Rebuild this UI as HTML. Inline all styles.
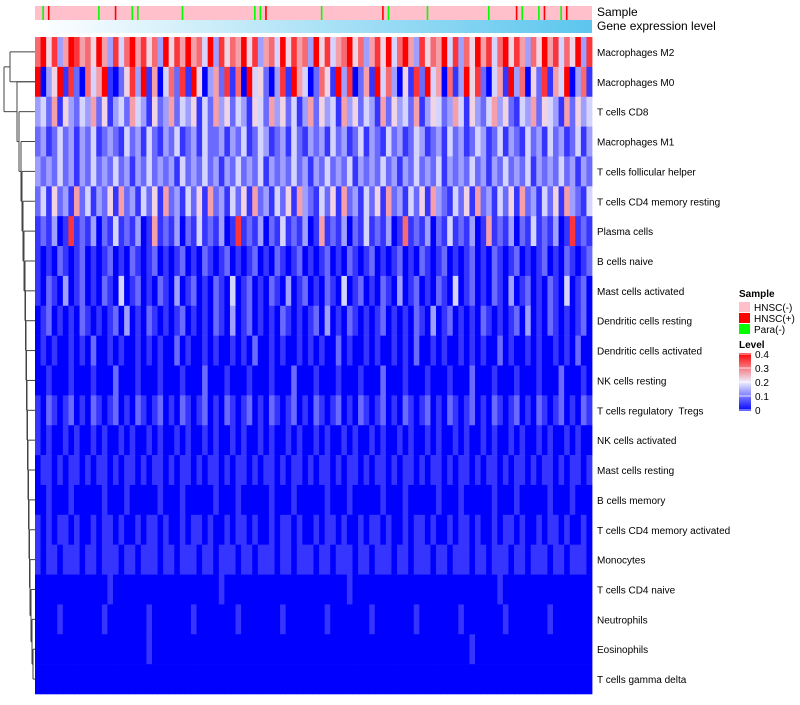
<!DOCTYPE html>
<html><head><meta charset="utf-8"><style>
body{margin:0;background:#fff;width:800px;height:700px;overflow:hidden;font-family:"Liberation Sans",sans-serif}
#labels text{white-space:pre}
</style></head><body>
<svg id="chart" width="800" height="700" xmlns="http://www.w3.org/2000/svg" font-family="Liberation Sans, sans-serif">
<defs>
<linearGradient id="gexp" x1="0" x2="1" y1="0" y2="0"><stop offset="0" stop-color="#ffffff"/><stop offset="1" stop-color="#5cc6ee"/></linearGradient>
<linearGradient id="lvl" x1="0" x2="0" y1="1" y2="0"><stop offset="0" stop-color="#0000ff"/><stop offset="0.5" stop-color="#eeeeff"/><stop offset="1" stop-color="#ff0000"/></linearGradient>
</defs>
<g id="dendro"></g>
<g id="sampleBar"></g>
<rect x="35" y="20" width="557" height="13" fill="url(#gexp)"/>
<text x="597" y="16" font-size="12">Sample</text>
<text x="597" y="30" font-size="12">Gene expression level</text>
<g id="cells"></g>
<g id="labels"></g>
<g>
<text x="739" y="297" font-size="10" font-weight="bold">Sample</text>
<rect x="739" y="302" width="11" height="10" fill="#ffc0cb"/>
<text x="754" y="311" font-size="10">HNSC(-)</text>
<rect x="739" y="313" width="11" height="10" fill="#ff0000"/>
<text x="754" y="322" font-size="10">HNSC(+)</text>
<rect x="739" y="324" width="11" height="10" fill="#00ff00"/>
<text x="754" y="333" font-size="10">Para(-)</text>
<text x="739" y="348" font-size="10" font-weight="bold">Level</text>
<rect x="739" y="353" width="12" height="58" fill="url(#lvl)"/>
<g id="lvlTicks"></g>
</g>
</svg>
<script>
const rowNames=["Macrophages M2","Macrophages M0","T cells CD8","Macrophages M1","T cells follicular helper","T cells CD4 memory resting","Plasma cells","B cells naive","Mast cells activated","Dendritic cells resting","Dendritic cells activated","NK cells resting","T cells regulatory  Tregs","NK cells activated","Mast cells resting","B cells memory","T cells CD4 memory activated","Monocytes","T cells CD4 naive","Neutrophils","Eosinophils","T cells gamma delta"];
const rowValues=[
"7958369867596384796857395869674938576958367495867395846795736859479638576948375968479586375968475938",
"9035918207469102583916047281950362817094520381964027519380261947305182946071395820461937052816490371",
"3426153243625134264315236243514263524315426352413625341635243162534261354236415324635214362543162534",
"2312423132412321423142132412314223132412431231421323142312413214231243123142312431241321423142312413",
"3232423132423242313242323142324231324232413232423132423241323242313242324132324231324232413232423132",
"2415231624132516231425162314251623142516231425163214251623142516231425163214251623142516231425163214",
"1213018121302141213016121302141213018121302141213016121302141213017121302141213016121302141213018121",
"1010210120101201021012010120102101201012010210120101201021012010120102101201012010210120101201021012",
"1021030120102104012010210301201021040120102103012010210401201021030120102104012010210301201021040120",
"0120101021010120301021010120101021030120101021010120301021010120101021030120101021010120301021010120",
"0101001010200101001010100201001010010102001010010101002010010100101020010100101010020100101001010200",
"0010001000100020001000100010002000100010001000200010001000100020001000100010002000100010001000200010",
"1021012010210120102101201021012010210120102101201021012010210120102101201021012010210120102101201021",
"1010010100101001010010100101001010010100101001010010100101001010010100101001010010100101001010010100",
"0110101101011010110101101011010110101101011010110101101011010110101101011010110101101011010110101101",
"0010001000001000100000100010000010001000001000100000100010000010001000001000100000100010000010001000",
"1010110100101101001011010010110100101101001011010010110100101101001011010010110100101101001011010010",
"1011011101101110110111011011101101110110111011011101101110110111011011101101110110111011011101101110",
"0000000000000100000000000000000001000000000000000000000010000000000000000000000000010000000000000000",
"0000100000001000000010000000100000001000000010000000100000001000000010000000100000001000000010000000",
"0000000000000000000010000000000000000000000000000000000000000000000000000000001000000000000000000000",
"0000000000000000000000000000000000000000000000000000000000000000000000000000000000000000000000000000"];
const sampleTypes="0210000000020010022000000020000000000002210000000002000000000012000000200000000002000012002100210000";
const sampleColors=["#ffc0cb","#ff0000","#00ff00"];
const levelTicks=[0,0.1,0.2,0.3,0.4];
const mergeHeights=[33,32,31,30,29.5,29,28.5,28,27.5,27,26.5,26,25.5,25,24,23,22,21,19,17];

const NS="http://www.w3.org/2000/svg";
const X0=35,X1=592,Y0=37,Y1=694;
const rowH=(Y1-Y0)/rowNames.length;
const vmax=0.4;
function color(v){
  const t=Math.max(0,Math.min(1,v/vmax));
  let r,g,b;
  if(t<0.5){const s=t/0.5;r=Math.round(238*s);g=Math.round(238*s);b=255;}
  else{const s=(t-0.5)/0.5;r=Math.round(238+17*s);g=Math.round(238*(1-s));b=Math.round(255*(1-s));}
  return `rgb(${r},${g},${b})`;
}
function yScale(i){return Y0+i*rowH;}
const cells=document.getElementById('cells');
rowValues.forEach((row,i)=>{
  const n=row.length,w=(X1-X0)/n;
  for(let j=0;j<n;j++){
    const v=(+row[j])*0.4/9;
    const r=document.createElementNS(NS,'rect');
    
    
    r.setAttribute('x',X0+j*w);r.setAttribute('y',yScale(i));
    r.setAttribute('width',w+0.4);r.setAttribute('height',rowH+0.3);
    r.setAttribute('fill',color(v));
    cells.appendChild(r);
  }
  const t=document.createElementNS(NS,'text');
  
  
  t.setAttribute('x',597);t.setAttribute('y',yScale(i)+rowH/2+4);
  t.setAttribute('font-size','10');t.textContent=rowNames[i];
  document.getElementById('labels').appendChild(t);
});
const sb=document.getElementById('sampleBar');
const sn=sampleTypes.length,sw=(X1-X0)/sn;
const bg=document.createElementNS(NS,'rect');


bg.setAttribute('x',X0);bg.setAttribute('y',6);bg.setAttribute('width',X1-X0);bg.setAttribute('height',14);bg.setAttribute('fill',sampleColors[0]);
sb.appendChild(bg);
for(let j=0;j<sn;j++){
  const k=+sampleTypes[j]; if(!k) continue;
  const r=document.createElementNS(NS,'rect');
  
  
  r.setAttribute('x',X0+j*sw+sw/2-1);r.setAttribute('y',6);r.setAttribute('width',1.6);r.setAttribute('height',14);
  r.setAttribute('fill',sampleColors[k]);sb.appendChild(r);
}
const lt=document.getElementById('lvlTicks');
levelTicks.forEach(v=>{
  const y=411-(v/vmax)*56;
  const l=document.createElementNS(NS,'line');
  
  
  l.setAttribute('x1',739);l.setAttribute('x2',751);l.setAttribute('y1',y-1);l.setAttribute('y2',y-1);
  l.setAttribute('stroke','#fff');l.setAttribute('stroke-width','0.8');lt.appendChild(l);
  const t=document.createElementNS(NS,'text');
  
  
  t.setAttribute('x',755);t.setAttribute('y',y+3);t.setAttribute('font-size','10');t.textContent=v===0?'0':String(v);
  lt.appendChild(t);
});
const dg=document.getElementById('dendro');
function line(x1,y1,x2,y2){
  const l=document.createElementNS(NS,'line');
  
  
  l.setAttribute('x1',x1);l.setAttribute('y1',y1);l.setAttribute('x2',x2);l.setAttribute('y2',y2);
  l.setAttribute('stroke','#444');l.setAttribute('stroke-width','1');dg.appendChild(l);
}
const cy=i=>yScale(i)+rowH/2;
let cx=X0,cyy=cy(21);
for(let k=0;k<mergeHeights.length;k++){
  const i=20-k; const h=mergeHeights[k];
  line(X0,cy(i),h,cy(i));
  line(cx,cyy,h,cyy);
  line(h,cy(i),h,cyy);
  cx=h;cyy=(cy(i)+cyy)/2;
}
line(X0,cy(0),10,cy(0));line(X0,cy(1),10,cy(1));line(10,cy(0),10,cy(1));
const ty=(cy(0)+cy(1))/2;
line(10,ty,4,ty);line(cx,cyy,4,cyy);line(4,ty,4,cyy);
</script>
</body></html>
